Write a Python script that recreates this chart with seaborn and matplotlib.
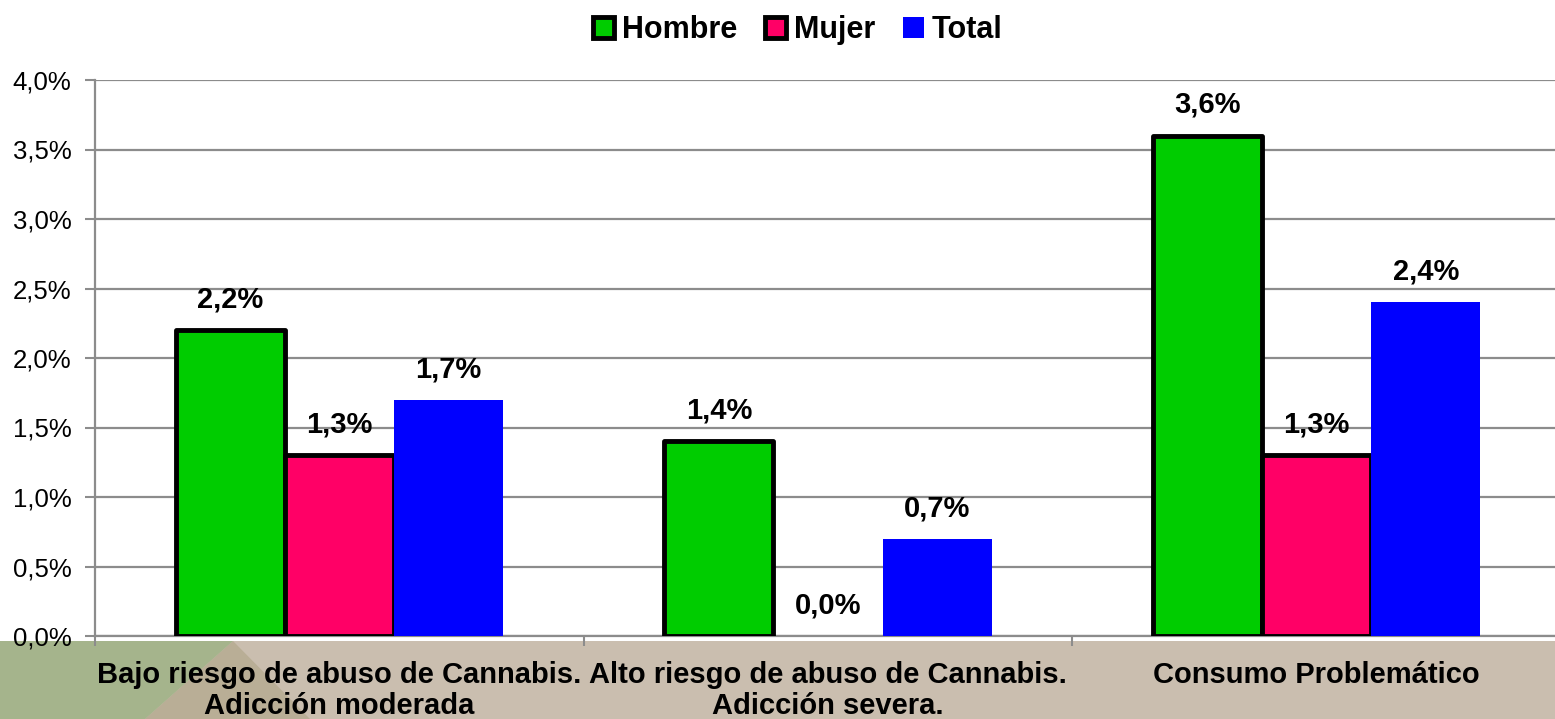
import matplotlib
matplotlib.use("Agg")
import matplotlib.pyplot as plt
import seaborn as sns
import pandas as pd
from matplotlib.patches import Patch, Rectangle, Polygon

# data (percent)
categorias = ["Bajo riesgo de abuso de Cannabis.\nAdicción moderada",
              "Alto riesgo de abuso de Cannabis.\nAdicción severa.",
              "Consumo Problemático"]
hombre = [2.2, 1.4, 3.6]
mujer = [1.3, 0.0, 1.3]
total = [1.7, 0.7, 2.4]
series = ["Hombre", "Mujer", "Total"]
colores = ["#00CC00", "#FF0066", "#0000FF"]
yticks = [0.0, 0.5, 1.0, 1.5, 2.0, 2.5, 3.0, 3.5, 4.0]

df = pd.DataFrame({
    "categoria": categorias * 3,
    "serie": ["Hombre"] * 3 + ["Mujer"] * 3 + ["Total"] * 3,
    "valor": hombre + mujer + total,
})

sns.set_style("white")
plt.rcParams["font.family"] = ["Liberation Sans", "DejaVu Sans"]
plt.rcParams["text.color"] = "black"
plt.rcParams["xtick.labelcolor"] = "black"
plt.rcParams["ytick.labelcolor"] = "black"

def fmt(v):
    return f"{v:.1f}%".replace(".", ",")

fig = plt.figure(figsize=(15.55, 7.19), dpi=100)
fig.patch.set_facecolor("white")

# beige band at the bottom with the green corner
W, H = 1555, 719
def fx(x):
    return x / W
def fy(y):
    return 1 - y / H
fig.patches.append(Rectangle((0, 0), 1, fy(641), transform=fig.transFigure,
                             facecolor="#CABEAF", edgecolor="none", zorder=-5))
fig.patches.append(Polygon([(fx(233), fy(641)), (fx(145), fy(719)), (fx(310), fy(719))],
                           closed=True, transform=fig.transFigure,
                           facecolor="#B9AE96", edgecolor="none", zorder=-4))
fig.patches.append(Polygon([(0, fy(641)), (fx(233), fy(641)), (fx(145), fy(719)), (0, 0)],
                           closed=True, transform=fig.transFigure,
                           facecolor="#A5B48C", edgecolor="none", zorder=-3))

ax = fig.add_axes([fx(95), fy(636), (1561 - 95) / W, (636 - 80) / H])
ax.set_facecolor("white")
ax.set_zorder(2)

sns.barplot(data=df, x="categoria", y="valor", hue="serie", hue_order=series,
            palette=colores, saturation=1, width=0.67, ax=ax, legend=False,
            zorder=3)

for cont, s in zip(ax.containers, series):
    for bar in cont:
        if s != "Total" and bar.get_height() > 0:
            bar.set_edgecolor("black")
            bar.set_linewidth(3.5)
            bar.set_joinstyle("round")
        else:
            bar.set_edgecolor("none")
            bar.set_linewidth(0)
    vals = df.loc[df.serie == s, "valor"].tolist()
    ax.bar_label(cont, labels=[fmt(v) for v in vals], padding=12,
                 fontsize=21, fontweight="bold", zorder=5)

ax.set_ylim(0, 4.0)
ax.set_yticks(yticks)
ax.set_yticklabels([fmt(v) for v in yticks], fontsize=18.5)
ax.yaxis.grid(True, color="#8C8C8C", linewidth=1.6, zorder=0)
ax.set_axisbelow(True)

ax.set_xlim(-0.5, 2.5)
ax.set_xticks([-0.5, 0.5, 1.5, 2.5])
ax.set_xticklabels([])
ax.set_xticks([0, 1, 2], minor=True)
ax.set_xticklabels(categorias, minor=True, fontsize=21, fontweight="bold",
                   linespacing=1.12)
ax.tick_params(axis="x", which="minor", length=0, pad=18)
ax.tick_params(axis="x", which="major", length=7, width=1.5, color="#8C8C8C", direction="out")
ax.tick_params(axis="y", length=7, width=1.5, color="#8C8C8C", direction="out", pad=10)
ax.tick_params(bottom=True, left=True)
ax.set_xlabel("")
ax.set_ylabel("")

for side in ["top", "right"]:
    ax.spines[side].set_visible(False)
for side in ["left", "bottom"]:
    ax.spines[side].set_color("#8C8C8C")
    ax.spines[side].set_linewidth(1.6)

handles = [Patch(facecolor=colores[0], edgecolor="black", linewidth=3.5),
           Patch(facecolor=colores[1], edgecolor="black", linewidth=3.5),
           Patch(facecolor=colores[2], edgecolor="none")]
fig.legend(handles, series, loc="upper center", bbox_to_anchor=(0.513, 1.017),
           ncol=3, frameon=False, handlelength=0.7, handleheight=0.7,
           handletextpad=0.25, columnspacing=0.9,
           prop={"size": 22, "weight": "bold"})

fig.savefig("out.png", dpi=100)
